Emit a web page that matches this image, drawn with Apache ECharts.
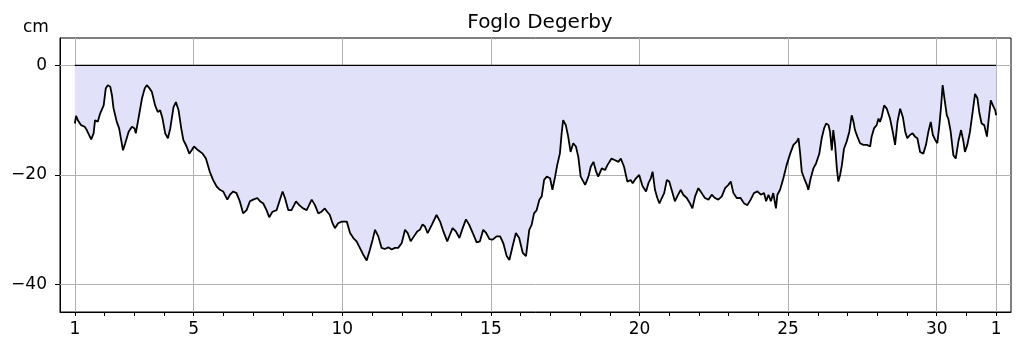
<!DOCTYPE html>
<html>
<head>
<meta charset="utf-8">
<script src="https://cdn.jsdelivr.net/npm/echarts@6/dist/echarts.min.js"></script>
<style>
  html, body { margin: 0; padding: 0; background: #fff; }
  #chart { width: 1023px; height: 352px; }
</style>
</head>
<body>
<div id="chart"></div>
<script>
// day of month (fractional) and sea level in cm
const days = [
  1.00, 1.04, 1.10, 1.15, 1.21, 1.33, 1.40, 1.55, 1.63, 1.68, 1.77, 1.85, 1.97,
  2.04, 2.11, 2.19, 2.25, 2.30, 2.41, 2.49, 2.62, 2.69, 2.81, 2.92, 3.01, 3.05,
  3.14, 3.26, 3.35, 3.42, 3.50, 3.59, 3.70, 3.79, 3.87, 3.95, 4.04, 4.13, 4.21,
  4.32, 4.40, 4.49, 4.58, 4.65, 4.76, 4.85, 4.93, 5.01, 5.15, 5.30, 5.41, 5.54,
  5.65, 5.77, 5.88, 5.99, 6.13, 6.22, 6.33, 6.44, 6.55, 6.66, 6.78, 6.89, 7.00,
  7.14, 7.23, 7.34, 7.45, 7.54, 7.65, 7.79, 7.90, 7.99, 8.07, 8.18, 8.29, 8.44,
  8.55, 8.68, 8.80, 8.97, 9.08, 9.19, 9.30, 9.41, 9.49, 9.58, 9.67, 9.75, 9.86,
  9.98, 10.03, 10.15, 10.26, 10.37, 10.48, 10.59, 10.70, 10.82, 10.93, 11.02,
  11.10, 11.21, 11.32, 11.43, 11.55, 11.66, 11.77, 11.88, 12.00, 12.11, 12.20,
  12.30, 12.41, 12.52, 12.61, 12.70, 12.78, 12.87, 13.01, 13.17, 13.29, 13.40,
  13.53, 13.62, 13.71, 13.82, 13.94, 14.05, 14.16, 14.27, 14.39, 14.52, 14.63,
  14.74, 14.83, 14.95, 15.06, 15.19, 15.31, 15.42, 15.53, 15.62, 15.73, 15.84,
  15.95, 16.07, 16.18, 16.29, 16.37, 16.45, 16.54, 16.63, 16.71, 16.79, 16.88,
  16.99, 17.07, 17.16, 17.23, 17.32, 17.38, 17.43, 17.52, 17.60, 17.68, 17.77,
  17.86, 17.94, 18.02, 18.17, 18.28, 18.36, 18.45, 18.54, 18.61, 18.73, 18.84,
  18.92, 19.06, 19.18, 19.29, 19.37, 19.48, 19.59, 19.70, 19.77, 19.88, 19.99,
  20.10, 20.22, 20.30, 20.38, 20.44, 20.52, 20.60, 20.67, 20.75, 20.83, 20.92,
  21.00, 21.08, 21.19, 21.27, 21.39, 21.47, 21.59, 21.70, 21.78, 21.87, 21.98,
  22.09, 22.20, 22.32, 22.43, 22.54, 22.65, 22.77, 22.88, 22.99, 23.07, 23.16,
  23.27, 23.40, 23.52, 23.63, 23.74, 23.85, 23.97, 24.08, 24.19, 24.26, 24.34,
  24.42, 24.50, 24.59, 24.64, 24.73, 24.84, 24.95, 25.07, 25.18, 25.29, 25.35,
  25.40, 25.46, 25.54, 25.63, 25.68, 25.76, 25.85, 25.94, 26.05, 26.13, 26.21,
  26.28, 26.36, 26.41, 26.47, 26.52, 26.58, 26.64, 26.69, 26.75, 26.81, 26.88,
  26.97, 27.06, 27.14, 27.20, 27.25, 27.33, 27.42, 27.53, 27.65, 27.76, 27.81,
  27.89, 27.98, 28.04, 28.09, 28.15, 28.23, 28.32, 28.43, 28.52, 28.60, 28.68,
  28.77, 28.86, 28.94, 29.01, 29.10, 29.19, 29.27, 29.35, 29.44, 29.55, 29.64,
  29.72, 29.80, 29.87, 29.95, 30.02, 30.09, 30.15, 30.20, 30.26, 30.34, 30.39,
  30.47, 30.56, 30.64, 30.73, 30.82, 30.90, 30.95, 31.03, 31.12, 31.21, 31.29,
  31.37, 31.43, 31.51, 31.60, 31.69, 31.74, 31.82, 31.89, 31.97, 32.00
];
const level = [
  -10.6, -9.2, -10.0, -9.8, -10.9, -11.2, -11.8, -13.5, -12.4, -10.0, -10.3, -8.8, -7.3,
  -4.2, -3.6, -3.9, -5.5, -7.8, -10.3, -11.5, -15.5, -14.3, -12.1, -11.2, -11.5, -12.4,
  -9.7, -6.0, -4.2, -3.6, -4.1, -4.8, -7.3, -8.5, -8.2, -9.7, -12.4, -13.3, -11.5,
  -7.6, -6.7, -8.2, -11.5, -13.6, -14.8, -16.1, -15.5, -14.8, -15.5, -16.1, -17.0, -19.4,
  -20.9, -22.1, -22.7, -23.0, -24.5, -23.6, -23.0, -23.3, -24.8, -27.0, -26.4, -24.8, -24.5,
  -24.2, -24.8, -25.2, -26.4, -27.7, -26.7, -26.4, -24.5, -23.0, -24.2, -26.4, -26.4, -24.8,
  -25.5, -26.1, -26.4, -24.5, -25.5, -27.0, -26.7, -26.1, -26.7, -27.3, -28.8, -29.7, -28.8,
  -28.5, -28.3, -28.5, -30.6, -31.5, -32.1, -33.3, -34.5, -35.6, -33.6, -31.8,
  -30.0, -31.2, -33.3, -33.5, -33.2, -33.6, -33.3, -33.3, -32.4, -30.0, -30.6,
  -32.1, -31.2, -30.3, -30.0, -29.0, -29.4, -30.6, -29.1, -27.3, -28.5, -30.3,
  -32.1, -30.9, -29.7, -30.3, -31.5, -29.7, -28.1, -29.1, -30.6, -32.3, -32.1,
  -30.0, -30.5, -31.7, -31.8, -31.2, -31.2, -32.5, -34.8, -35.5, -33.0, -30.6,
  -31.5, -34.2, -34.8, -30.0, -29.1, -27.0, -26.4, -24.5, -23.9, -20.9, -20.3,
  -20.6, -22.7, -20.3, -18.2, -16.1, -12.4, -10.0, -10.9, -13.0, -15.8, -14.2,
  -14.8, -16.7, -20.3, -21.8, -20.3, -18.5, -17.6, -19.4, -20.3, -18.8, -19.1,
  -18.2, -17.0, -17.3, -17.6, -17.0, -18.5, -21.2, -20.9, -21.5, -20.6, -20.0,
  -22.0, -23.0, -21.5, -20.6, -19.4, -22.7, -24.2, -25.2, -24.2, -23.3, -20.9,
  -21.2, -22.7, -24.8, -23.9, -22.7, -23.6, -24.2, -25.2, -26.1, -23.9, -22.4,
  -23.3, -24.2, -24.5, -23.6, -24.2, -24.5, -23.9, -22.4, -21.8, -21.2, -23.3,
  -24.2, -24.2, -25.2, -25.5, -24.5, -23.3, -23.0, -23.6, -23.3, -24.8, -23.6,
  -24.8, -23.3, -26.1, -23.6, -22.7, -20.6, -18.2, -16.1, -14.5, -13.9, -13.3,
  -15.8, -19.4, -20.6, -21.8, -22.7, -20.6, -18.8, -17.9, -16.1, -13.3, -11.5,
  -10.6, -10.9, -12.1, -15.5, -11.8, -14.5, -18.8, -21.2, -20.0, -18.2, -15.2,
  -13.9, -12.1, -9.1, -10.3, -11.8, -13.0, -14.2, -14.5, -14.5, -14.8, -13.0,
  -11.5, -10.9, -9.7, -10.3, -9.4, -7.3, -7.9, -9.7, -12.1, -14.5, -10.3,
  -7.9, -9.4, -12.1, -13.3, -12.7, -12.4, -13.0, -13.3, -15.8, -16.1, -14.5,
  -12.1, -10.3, -12.7, -13.6, -14.2, -10.9, -7.3, -3.6, -6.0, -9.1, -9.7,
  -12.1, -16.4, -17.0, -13.9, -11.8, -13.9, -15.8, -14.5, -12.1, -8.5, -5.2,
  -6.0, -8.5, -10.6, -10.9, -13.0, -10.3, -6.4, -7.3, -8.2, -9.1
];

// tick marks every day, labels/grid on these days (32 = 1st of next month)
const tickDays = [];
for (let d = 1; d <= 32; d++) tickDays.push(d);
const labelDays = [1, 5, 10, 15, 20, 25, 30, 32];
const levelTicks = [0, -20, -40];

const series = days.map((d, i) => [d, level[i]]);
const fmtMinus = v => String(v).replace('-', '\u2212');
const font = "'DejaVu Sans', sans-serif";

const chart = echarts.init(document.getElementById("chart"));
chart.setOption({
  animation: false,
  title: {
    text: "Foglo Degerby",
    left: 535,
    textAlign: "center",
    top: 8,
    textStyle: { fontFamily: font, fontSize: 20, fontWeight: "normal", color: "#000" },
  },
  graphic: [{
    type: "text",
    left: 23,
    top: 19,
    style: { text: "cm", font: "17px " + font, fill: "#000" },
  }],
  grid: {
    left: 60,
    right: 12,
    top: 38,
    bottom: 40,
    show: true,
    borderColor: "#000",
    borderWidth: 1,
    backgroundColor: "transparent",
  },
  xAxis: {
    type: "value",
    min: 0.5,
    max: 32.5,
    axisLine: { show: true, onZero: false, lineStyle: { color: "#000", width: 1 } },
    axisTick: { show: true, length: 4, customValues: tickDays, lineStyle: { color: "#000" } },
    axisLabel: {
      customValues: labelDays,
      formatter: v => (v === 32 ? "1" : String(v)),
      color: "#000",
      fontFamily: font,
      fontSize: 17,
      margin: 9,
    },
    splitLine: { show: false },
  },
  yAxis: {
    type: "value",
    min: -45,
    max: 5,
    axisLine: { show: true, lineStyle: { color: "#000", width: 1 } },
    axisTick: { show: true, length: 5, customValues: levelTicks, lineStyle: { color: "#000" } },
    axisLabel: {
      customValues: levelTicks,
      formatter: fmtMinus,
      color: "#000",
      fontFamily: font,
      fontSize: 17,
      margin: 13,
    },
    splitLine: { show: false },
  },
  series: [
    {
      name: "Level",
      type: "line",
      data: series,
      showSymbol: false,
      smooth: false,
      lineStyle: { color: "#000", width: 1.8 },
      areaStyle: { color: "#e1e1fa", opacity: 1 },
      z: 3,
      markLine: {
        silent: true,
        symbol: "none",
        label: { show: false },
        lineStyle: { color: "#b0b0b0", width: 1, type: "solid" },
        data: labelDays.map(d => ({ xAxis: d })).concat(levelTicks.map(v => ({ yAxis: v }))),
        z: 1,
      },
    },
    {
      name: "Zero",
      type: "line",
      data: [[days[0], 0], [days[days.length - 1], 0]],
      showSymbol: false,
      lineStyle: { color: "#000", width: 1.2 },
      z: 4,
    },
  ],
});
window.addEventListener("resize", function () {
  chart.resize();
});
</script>
</body>
</html>
